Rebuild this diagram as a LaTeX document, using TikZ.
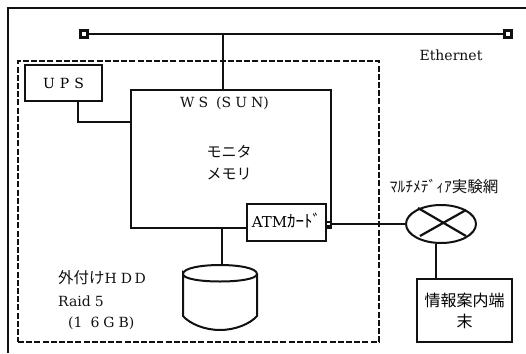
\documentclass[tikz,border=0pt]{standalone}
\usepackage{xcolor}
\usepackage{fontspec}
\usepackage{tikz}
\usetikzlibrary{shapes.geometric}
\setmainfont{DejaVu Serif}
\newfontfamily\cjk{Noto Sans CJK JP}
\definecolor{inkblack}{HTML}{111111}

\begin{document}
\begin{tikzpicture}[x=1pt,y=-1pt,
  box/.style={rectangle,draw=inkblack,line width=2pt,fill=white,inner sep=0pt,align=center,
    font=\fontsize{14}{21}\selectfont},
  txt/.style={inner sep=0pt,align=left,text=inkblack,font=\fontsize{14}{21}\selectfont},
  wire/.style={draw=inkblack,line width=1.9pt},
  stub/.style={rectangle,draw=inkblack,line width=2.2pt,fill=white,minimum size=7pt,inner sep=0pt}]

  \useasboundingbox (0,0) rectangle (526,353);

  % frame and enclosure
  \coordinate (framebl) at (8,353);
  \coordinate (frametr) at (526,8);
  \draw[wire,line width=1.5pt] (framebl) |- (frametr);
  \node[rectangle,draw=inkblack,line width=2pt,dash pattern=on 6pt off 2.2pt,
    minimum width=361pt,minimum height=281pt,inner sep=0pt] (encl) at (198.5,201.5) {};

  % ethernet
  \node[stub] (stubl) at (84,34) {};
  \node[stub] (stubr) at (508,34) {};
  \draw[wire] (stubl) -- (stubr);
  \coordinate (tap) at (223,34);
  \node[txt] (ether) at (451,55) {Ethernet};

  % boxes
  \node[box,minimum width=200pt,minimum height=138pt] (ws) at (231,159) {};
  \node[box,minimum width=77pt,minimum height=36pt] (ups) at (63.5,83) {U\hspace{5pt}P\hspace{5pt}S};
  \node[box,minimum width=79pt,minimum height=37pt] (atm) at (286.5,222.5) {\raisebox{4pt}{\fontsize{15}{15}\selectfont ATM{\cjk\fontsize{17}{15}\selectfont ｶｰﾄﾞ}}};
  \node[box,minimum width=95pt,minimum height=63pt,font=\cjk\fontsize{16}{21}\selectfont] (info) at (464.5,310.5) {情報案内端\\末};
  \node[ellipse,draw=inkblack,line width=2pt,minimum width=70pt,minimum height=38pt,inner sep=0pt] (atmnet) at (441,224) {};

  \node[txt] (wslabel) at (224.5,103) {W\hspace{4pt}S\hspace{8pt}(S\hspace{4pt}U\hspace{4pt}N)};
  \node[txt,align=center,font=\cjk\fontsize{15}{22}\selectfont] (wstext) at (229,163) {モニタ\\メモリ};
  \node[txt,font=\cjk\fontsize{15.5}{18}\selectfont] (netlabel) at (444,187) {ﾏﾙﾁﾒﾃﾞｨｱ実験網};
  \node[txt,anchor=west] (hddname) at (58,278) {{\cjk\fontsize{15.5}{18}\selectfont 外付け}H\hspace{4pt}D\hspace{2.5pt}D};
  \node[txt,anchor=west] (hddraid) at (58,301) {Raid\hspace{4pt}5};
  \node[txt,anchor=west] (hddsize) at (68,323) {(1\hspace{8pt}6\hspace{4pt}G\hspace{4pt}B)};

  % disk
  \coordinate (hddtop) at (222,266);
  \draw[wire,line width=2pt] (183,274) .. controls (183,262) and (257,262) .. (257,274)
    .. controls (257,284) and (183,284) .. (183,274) -- (183,316)
    .. controls (190,324) and (205,330) .. (220,330)
    .. controls (235,330) and (250,324) .. (257,316) -- (257,274);

  % small port on the ATM card
  \node[rectangle,draw=inkblack,line width=1.5pt,fill=white,minimum size=4pt,inner sep=0pt] (port) at (328.5,224) {};

  % links
  \coordinate (upsout) at (78,102);
  \coordinate (wsin) at (131,122);
  \draw[wire] (tap) -- (tap |- ws.north);
  \draw[wire] (upsout) |- (wsin);
  \draw[wire] (port) -- (atmnet.west);
  \draw[wire] (hddtop) -- (hddtop |- ws.south);
  \coordinate (infoin) at (436,279);
  \draw[wire] (infoin) -- (infoin |- atmnet.south);

  % cross in the network symbol
  \coordinate (xa) at (418,208);
  \coordinate (xb) at (466,236);
  \coordinate (xc) at (466,210);
  \coordinate (xd) at (420,236);
  \draw[wire,line width=2.2pt] (xa) -- (xb);
  \draw[wire,line width=2.2pt] (xc) -- (xd);
\end{tikzpicture}
\end{document}
